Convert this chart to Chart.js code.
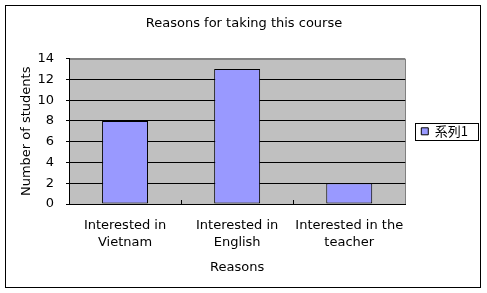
<!DOCTYPE html>
<html>
<head>
<meta charset="utf-8">
<script src="https://cdn.jsdelivr.net/npm/chart.js@4"></script>
<style>
html,body{margin:0;padding:0;background:#fff;}
#wrap{width:487px;height:293px;}
</style>
</head>
<body>
<div id="wrap"><canvas id="c" width="487" height="293"></canvas></div>
<script>
const categories = [["Interested in","Vietnam"],["Interested in","English"],["Interested in the","teacher"]];
const values = [8, 13, 2];
const seriesName = "系列1";
const yMin = 0, yMax = 14, yStep = 2;
const chartTitle = "Reasons for taking this course";
const xTitle = "Reasons";
const yTitle = "Number of students";

const FONT = "'DejaVu Sans', sans-serif";

const decor = {
  id: 'decor',
  beforeDraw(chart) {
    const ctx = chart.ctx, a = chart.chartArea;
    ctx.save();
    ctx.fillStyle = '#fff';
    ctx.fillRect(0, 0, chart.width, chart.height);
    ctx.fillStyle = '#C0C0C0';
    ctx.fillRect(a.left, a.top, a.right - a.left, a.bottom - a.top);
    ctx.strokeStyle = '#808080';
    ctx.lineWidth = 1;
    ctx.strokeRect(Math.round(a.left) + 0.5, Math.round(a.top) + 0.5, Math.round(a.right - a.left), Math.round(a.bottom - a.top));
    ctx.strokeStyle = '#000';
    ctx.strokeRect(5.5, 5.5, 475, 282);
    ctx.restore();
  },
  afterDraw(chart) {
    const ctx = chart.ctx, a = chart.chartArea, xs = chart.scales.x;
    ctx.save();
    ctx.strokeStyle = '#000';
    ctx.lineWidth = 1;
    for (let i = 0; i < categories.length - 1; i++) {
      const px = Math.round((xs.getPixelForValue(i) + xs.getPixelForValue(i + 1)) / 2) + 0.5;
      ctx.beginPath();
      ctx.moveTo(px, a.bottom);
      ctx.lineTo(px, a.bottom - 4);
      ctx.stroke();
    }
    const lg = chart.legend;
    if (lg && lg.legendHitBoxes && lg.legendHitBoxes.length) {
      const hb = lg.legendHitBoxes[0];
      const cy = hb.top + hb.height / 2;
      ctx.strokeRect(Math.round(hb.left) - 5.5, Math.round(cy - 8.5) + 0.5, Math.round(hb.width) + 16, 17);
    }
    ctx.restore();
  }
};

new Chart(document.getElementById('c'), {
  type: 'bar',
  data: {
    labels: categories,
    datasets: [{
      label: seriesName,
      data: values,
      backgroundColor: '#9999FF',
      borderColor: '#000',
      borderWidth: 1,
      borderSkipped: false,
      barPercentage: 0.41,
      categoryPercentage: 1.0
    }]
  },
  options: {
    responsive: false,
    animation: false,
    devicePixelRatio: 1,
    layout: { padding: { left: 10, right: 9, top: 10, bottom: 6 } },
    plugins: {
      title: {
        display: true,
        text: chartTitle,
        color: '#000',
        font: { family: FONT, size: 13, weight: 'normal', lineHeight: 1.2 },
        padding: { top: 6, bottom: 27 }
      },
      legend: {
        display: true,
        position: 'right',
        align: 'center',
        fullSize: false,
        labels: {
          color: '#000',
          font: { family: "'Noto Sans CJK JP', 'DejaVu Sans', sans-serif", size: 13 },
          boxWidth: 7,
          boxHeight: 7,
          padding: 16,
          generateLabels(chart) {
            return [{
              text: seriesName,
              fillStyle: '#9999FF',
              strokeStyle: '#000',
              lineWidth: 1,
              datasetIndex: 0,
              fontColor: '#000'
            }];
          }
        }
      },
      tooltip: { enabled: false }
    },
    scales: {
      x: {
        grid: { display: false, drawOnChartArea: false, drawTicks: false },
        border: { display: true, color: '#000', width: 1 },
        ticks: { color: '#000', font: { family: FONT, size: 13, lineHeight: 1.3 }, maxRotation: 0, autoSkip: false, padding: 13 },
        title: { display: true, text: xTitle, color: '#000', font: { family: FONT, size: 13, lineHeight: 1.2 }, padding: { top: 4, bottom: 12 } },
        afterFit(scale) { scale.height = 83; }
      },
      y: {
        min: yMin,
        max: yMax,
        ticks: { stepSize: yStep, color: '#000', font: { family: FONT, size: 13 }, padding: 12 },
        grid: {
          color: (c) => (c.tick && c.tick.value === yMax) ? '#808080' : '#000',
          tickColor: '#000',
          tickLength: 3,
          drawTicks: true
        },
        border: { display: true, color: '#000', width: 1 },
        title: { display: true, text: yTitle, color: '#000', font: { family: FONT, size: 13, lineHeight: 1.2 }, padding: { top: 9, bottom: 0 } },
        afterFit(scale) { scale.width = 59; }
      }
    }
  },
  plugins: [decor]
});
</script>
</body>
</html>
